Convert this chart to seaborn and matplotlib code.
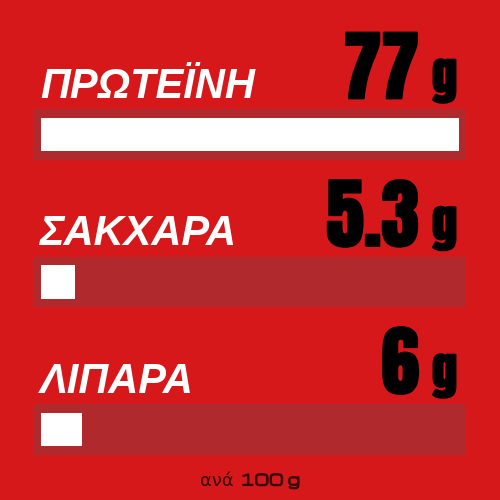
import matplotlib
matplotlib.use("Agg")
import matplotlib.pyplot as plt
import matplotlib.transforms as mtransforms
import matplotlib.patheffects as pe
import seaborn as sns
import pandas as pd

nutrients = ["ΠΡΩΤΕΪΝΗ", "ΣΑΚΧΑΡΑ", "ΛΙΠΑΡΑ"]
grams = ["77", "5.3", "6"]
fill_pct = [100, 8.1, 9.8]   # how much of each bar is filled
footer_word = "ανά"
footer_amount = "100 g"

RED = "#d6181a"
TRACK = "#b02a2d"
DARK = "#3a0a0b"

sns.set_theme(style="white")
num_font = ["Anton", "DejaVu Sans"]
lab_font = ["Liberation Sans", "DejaVu Sans"]

fig = plt.figure(figsize=(5, 5), dpi=100, facecolor=RED)
ax = fig.add_axes([0.066, 0.0525, 0.866, 0.767])

# bar tracks (darker red band behind each bar)
for i in range(len(nutrients)):
    ax.axhspan(i - 0.17, i + 0.17, color=TRACK, lw=0, zorder=0)

df = pd.DataFrame({"nutrient": nutrients, "fill": fill_pct})
sns.barplot(data=df, x="fill", y="nutrient", orient="h", color="white",
            saturation=1, width=0.23, linewidth=0, ax=ax, zorder=2)

ax.set_xlim(-100 * 8 / 418, 100 + 100 * 7 / 418)
ax.set_ylim(2.3, -0.3)
ax.axis("off")

heavy = [pe.withStroke(linewidth=1.5, foreground="black")]
trans = mtransforms.blended_transform_factory(fig.transFigure, ax.transData)
for i, (name, val) in enumerate(zip(nutrients, grams)):
    ax.text(0.08, i - 0.25, name, transform=trans, ha="left", va="baseline",
            fontsize=30, fontweight="bold", fontstyle="italic",
            family=lab_font, color="white", clip_on=False)
    ax.text(0.838, i - 0.245, val, transform=trans, ha="right", va="baseline",
            fontsize=55, family=num_font, color="black", clip_on=False,
            path_effects=heavy)
    ax.text(0.914, i - 0.218, "g", transform=trans, ha="right", va="bottom",
            fontsize=36, family=num_font, color="black", clip_on=False,
            path_effects=heavy)

fig.text(0.468, 0.029, footer_word, ha="right", va="baseline",
         fontsize=13, family="DejaVu Sans", color=DARK)
fig.text(0.48, 0.029, footer_amount, ha="left", va="baseline",
         fontsize=11, family=["Michroma", "DejaVu Sans"], color=DARK,
         path_effects=[pe.withStroke(linewidth=0.8, foreground=DARK)])

fig.savefig("out.png", dpi=100, facecolor=RED)
